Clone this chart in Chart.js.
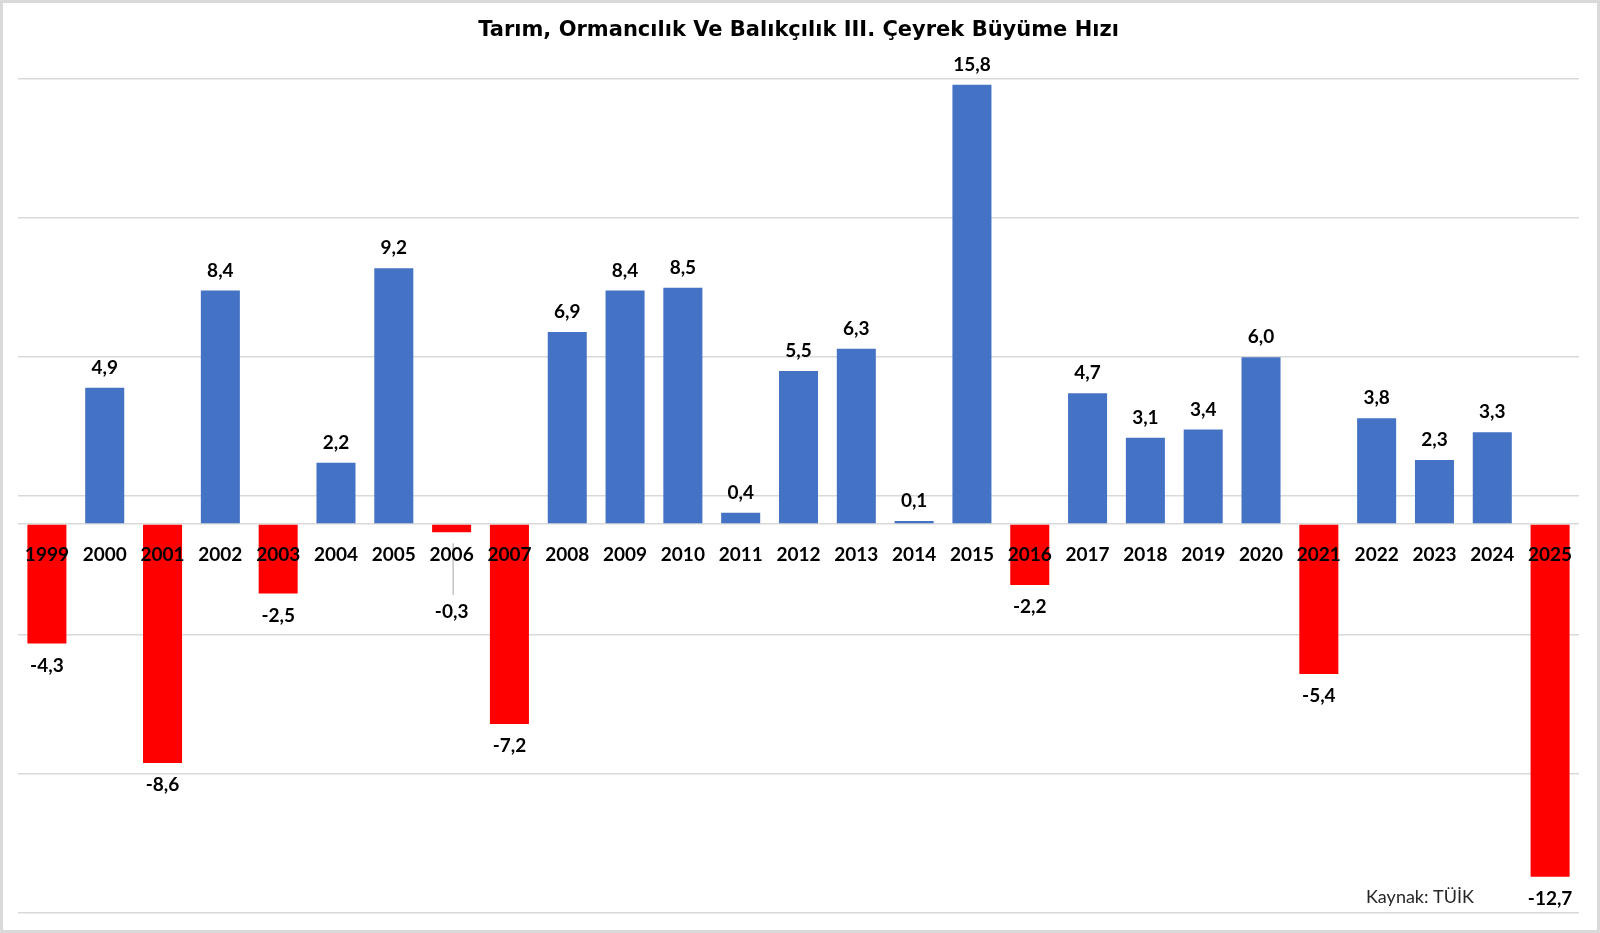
<!DOCTYPE html>
<html>
<head>
    <meta charset="UTF-8">
    <title>Tarım, Ormancılık Ve Balıkçılık III. Çeyrek Büyüme Hızı</title>
    <script src="https://cdn.jsdelivr.net/npm/chart.js"></script>
    <style>
        html, body { margin: 0; padding: 0; background: #fff; }
        #wrap { position: relative; width: 1600px; height: 933px; }
    </style>
</head>
<body>
    <div id="wrap"><canvas id="chart" width="1600" height="933"></canvas></div>

    <script>
        // yıllar ve III. çeyrek büyüme hızları (%)
        const years = ['1999', '2000', '2001', '2002', '2003', '2004', '2005', '2006', '2007',
            '2008', '2009', '2010', '2011', '2012', '2013', '2014', '2015', '2016', '2017',
            '2018', '2019', '2020', '2021', '2022', '2023', '2024', '2025'];
        const growth = [-4.3, 4.9, -8.6, 8.4, -2.5, 2.2, 9.2, -0.3, -7.2,
            6.9, 8.4, 8.5, 0.4, 5.5, 6.3, 0.1, 15.8, -2.2, 4.7,
            3.1, 3.4, 6.0, -5.4, 3.8, 2.3, 3.3, -12.7];
        // Excel tarzı eksen: -14'ten 16'ya 5'er adım (0 da çizgi olarak)
        const yTicks = [-14, -9, -4, 0, 1, 6, 11, 16];

        const FONT = 'Lato, "Noto Sans", sans-serif';
        const TITLE_FONT = '"DejaVu Sans", sans-serif';

        const fmt = v => v.toFixed(1).replace('.', ',');

        // çerçeve
        const frame = {
            id: 'frame',
            afterDraw(chart) {
                const c = chart.ctx;
                c.save();
                c.strokeStyle = '#d9d9d9';
                c.lineWidth = 3;
                c.strokeRect(1.5, 1.5, chart.width - 3, chart.height - 3);
                c.restore();
            }
        };

        // değer etiketleri
        const valueLabels = {
            id: 'valueLabels',
            afterDatasetsDraw(chart) {
                const c = chart.ctx;
                const meta = chart.getDatasetMeta(0);
                const zero = chart.scales.y.getPixelForValue(0);
                c.save();
                c.font = 'bold 19px ' + FONT;
                c.fillStyle = '#000';
                c.textAlign = 'center';
                c.textBaseline = 'middle';
                meta.data.forEach((bar, i) => {
                    const v = growth[i];
                    let y;
                    if (v >= 0) {
                        y = bar.y - 20;
                    } else {
                        y = bar.y + 22;
                        const minY = zero + 88;
                        if (y < minY - 30) {
                            // yıl etiketine çakışmasın diye aşağı al, bağlantı çizgisi çiz
                            c.save();
                            c.strokeStyle = '#a6a6a6';
                            c.lineWidth = 1;
                            c.beginPath();
                            c.moveTo(bar.x + 1.5, bar.y + 11);
                            c.lineTo(bar.x + 1.5, minY - 17);
                            c.stroke();
                            c.restore();
                            y = minY;
                        }
                    }
                    c.fillText(fmt(v), bar.x, y);
                });
                // kaynak
                c.font = '18px ' + FONT;
                c.fillStyle = '#262626';
                c.textAlign = 'left';
                c.fillText('Kaynak: TÜİK', 1366, 897);
                c.restore();
            }
        };

        const ctx = document.getElementById('chart').getContext('2d');
        new Chart(ctx, {
            type: 'bar',
            data: {
                labels: years,
                datasets: [{
                    data: growth,
                    backgroundColor: growth.map(v => v < 0 ? '#ff0000' : '#4472c4'),
                    categoryPercentage: 0.675,
                    barPercentage: 1
                }]
            },
            options: {
                responsive: false,
                animation: false,
                layout: { padding: { left: 18, right: 21, bottom: 20, top: 0 } },
                plugins: {
                    legend: { display: false },
                    tooltip: { enabled: false },
                    title: {
                        display: true,
                        text: 'Tarım, Ormancılık Ve Balıkçılık III. Çeyrek Büyüme Hızı',
                        color: '#000',
                        font: { family: TITLE_FONT, size: 21, weight: 'bold' },
                        padding: { top: 18, bottom: 36 }
                    }
                },
                scales: {
                    x: {
                        position: { y: 0 },
                        grid: { display: false },
                        border: { display: false },
                        ticks: {
                            z: 1,
                            color: '#000',
                            font: { family: FONT, size: 19, weight: 'bold' },
                            padding: 12,
                            maxRotation: 0,
                            autoSkip: false
                        }
                    },
                    y: {
                        min: -14,
                        max: 16,
                        afterBuildTicks: scale => {
                            scale.ticks = yTicks.map(v => ({ value: v }));
                        },
                        grid: { color: '#d9d9d9', lineWidth: 1.5, drawTicks: false },
                        border: { display: false },
                        ticks: { display: false }
                    }
                }
            },
            plugins: [frame, valueLabels]
        });
    </script>
</body>
</html>
